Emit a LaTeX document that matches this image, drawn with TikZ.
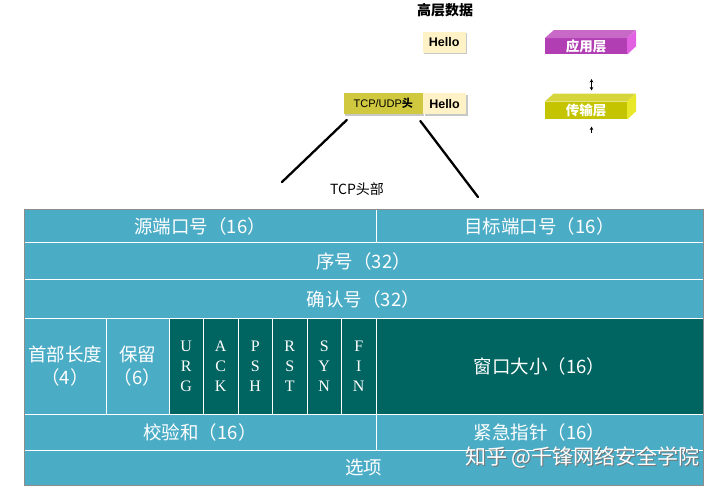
\documentclass[tikz,border=0pt]{standalone}
\usepackage{fontspec}
\setmainfont{Liberation Sans}
\newfontfamily\cjk{Noto Sans CJK SC}
\newfontfamily\flagfont{Liberation Serif}
\usetikzlibrary{arrows.meta, positioning, calc, shadows}

\definecolor{fieldblue}{RGB}{75,172,198}
\definecolor{flagteal}{RGB}{0,100,97}
\definecolor{hellofill}{RGB}{255,242,198}
\definecolor{hdrfill}{RGB}{208,200,62}
\definecolor{appfront}{RGB}{178,62,180}
\definecolor{apptop}{RGB}{200,105,200}
\definecolor{appside}{RGB}{226,96,226}
\definecolor{tspfront}{RGB}{196,196,0}
\definecolor{tsptop}{RGB}{214,214,60}
\definecolor{tspside}{RGB}{232,232,40}

\begin{document}
\begin{tikzpicture}[x=1pt, y=-1pt, >=Stealth,
	field/.style={draw=white, line width=0.8pt, fill=fieldblue, text=white, inner sep=0pt, outer sep=0pt, font=\cjk\fontsize{18.5}{23}\selectfont, align=center},
	flagcell/.style={field, fill=flagteal, minimum width=34.5, minimum height=96, font=\flagfont\fontsize{16}{20}\selectfont},
	pdu/.style={inner sep=0pt, minimum height=21, drop shadow={shadow xshift=1.5pt, shadow yshift=-1.5pt, fill=black!22, opacity=1}},
	layerbox/.style={inner sep=0pt, minimum width=82, text=white, font=\cjk\bfseries\fontsize{13.5}{14}\selectfont},
	cut/.style={line width=2.3pt, line cap=round}]
	\useasboundingbox (0,0) rectangle (720,488);

	\node[font=\cjk\bfseries\fontsize{14}{16}\selectfont] (upper) at (445,10) {高层数据};
	\node[pdu, fill=hellofill, minimum width=43, font=\bfseries\fontsize{12.5}{14}\selectfont] (hello) at (444.2,42) {Hello};
	\node[pdu, fill=hdrfill, minimum width=78.7, font=\fontsize{11}{13}\selectfont] (hdr) at (383.3,103.8) {TCP/UDP\cjk\bfseries 头};
	\node[pdu, fill=hellofill, minimum width=43, font=\bfseries\fontsize{12.5}{14}\selectfont, right=0pt of hdr] (data) {Hello};

	% layers
	\node[layerbox, fill=appfront, minimum height=16] (app) at (586,46.3) {应用层};
	\fill[apptop] (app.north west) -- ++(9,-8) -- ++(82,0) -- (app.north east) -- cycle;
	\fill[appside] (app.north east) -- ++(9,-8) -- ++(0,16) -- (app.south east) -- cycle;
	\node[layerbox, fill=tspfront, minimum height=17.6] (tsp) at (586,110.5) {传输层};
	\fill[tsptop] (tsp.north west) -- ++(9,-8) -- ++(82,0) -- (tsp.north east) -- cycle;
	\fill[tspside] (tsp.north east) -- ++(9,-8) -- ++(0,17.6) -- (tsp.south east) -- cycle;
	\draw[{Stealth[length=3.5pt,width=3.5pt]}-{Stealth[length=3.5pt,width=3.5pt]}, line width=1pt, shorten <=24.5pt, shorten >=11pt] ([xshift=5.5]app.south) -- ([xshift=5.5]tsp.north);
	\coordinate (below) at (591.5,133);
	\draw[-{Stealth[length=3.5pt,width=3.5pt]}, line width=1pt, shorten >=7pt] (below) -- (below |- tsp.south);

	\coordinate (lstart) at ([shift={(3,5.5)}]hdr.south west);
	\coordinate (rstart) at ([shift={(-2.5,6.5)}]hdr.south east);
	\coordinate (lend) at (282,182);
	\coordinate (rend) at (478,197);
	\draw[cut] (lstart) -- (lend);
	\draw[cut] (rstart) -- (rend);
	\node[font=\cjk\fontsize{14}{16}\selectfont] (tcphdr) at (357,189) {TCP头部};

	% header fields
	\node[field, minimum width=352, minimum height=33] (srcport) at (200,226) {源端口号（16）};
	\node[field, minimum width=327, minimum height=33] (dstport) at (539.5,226) {目标端口号（16）};
	\node[field, minimum width=679, minimum height=37] (seq) at (363.5,261) {序号（32）};
	\node[field, minimum width=679, minimum height=39] (ack) at (363.5,299) {确认号（32）};
	\node[field, minimum width=82, minimum height=96] (hlen) at (65,366.5) {首部长度\\（4）};
	\node[field, minimum width=63, minimum height=96] (rsv) at (137.5,366.5) {保留\\（6）};
	\foreach \flg [count=\i from 0] in {{U\\R\\G},{A\\C\\K},{P\\S\\H},{R\\S\\T},{S\\Y\\N},{F\\I\\N}}
		\node[flagcell] (flag\i) at ({186.25+34.5*\i},366.5) {\flg};
	\node[field, fill=flagteal, minimum width=327, minimum height=96] (window) at (539.5,366.5) {窗口大小（16）};
	\node[field, minimum width=352, minimum height=35.5] (cksum) at (200,432.25) {校验和（16）};
	\node[field, minimum width=327, minimum height=35.5] (urgptr) at (539.5,432.25) {紧急指针（16）};
	\node[field, minimum width=679, minimum height=35.5] (opts) at (363.5,467.75) {选项};
	\draw[black!45, line width=0.6pt] (srcport.north west) rectangle (opts.south east);

	\node[text=black!55, font=\cjk\fontsize{21}{23}\selectfont] (markshadow) at (583.5,458) {知乎 @千锋网络安全学院};
	\node[text=white, font=\cjk\fontsize{21}{23}\selectfont] (mark) at (582.5,457) {知乎 @千锋网络安全学院};
\end{tikzpicture}
\end{document}
